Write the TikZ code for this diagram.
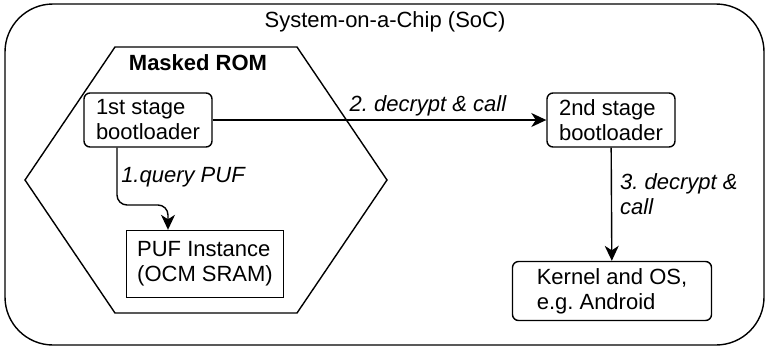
\documentclass[tikz,border=0pt]{standalone}
\usepackage{fontspec}
\setmainfont{Liberation Sans}
\frenchspacing
\usetikzlibrary{positioning, arrows.meta}
\tikzset{
    x=1pt, y=-1pt,
    every node/.style={font=\fontsize{22}{25}\selectfont},
    block/.style={draw, line width=1.4pt, rounded corners=6pt, align=left,
        minimum width=128pt, minimum height=54pt, inner sep=0pt},
    plainblock/.style={block, sharp corners},
    steplabel/.style={font=\fontsize{22}{25}\selectfont\itshape, align=left, inner sep=0pt},
    flow/.style={-{Stealth[length=15pt, width=14pt, inset=4.5pt]}, line width=1.4pt},
}

\begin{document}
\begin{tikzpicture}
                \useasboundingbox (0,0) rectangle (767,349);
                \draw[line width=1.4pt, rounded corners=48pt] (5,4) rectangle (764,345);
                \node (soc) at (385,22) {System-on-a-Chip (SoC)};

                \draw[line width=1.4pt] (115,47) -- (297,47) -- (387,180)
                      -- (297,313) -- (115,313) -- (25,180) -- cycle;
                \node[font=\fontsize{22}{25}\selectfont\bfseries] (rom) at (198,63) {Masked ROM};

                \node[block] (boot1) at (148,120) {1st stage\\bootloader};
                \node[block] (boot2) at (611,120) {2nd stage\\bootloader};
                \node[plainblock, minimum width=157pt, minimum height=67pt] (puf) at (205,264) {PUF Instance\\(OCM SRAM)};
                \node[block, minimum width=199pt, minimum height=59pt] (kernel) at (612,291) {Kernel and OS,\\e.g. Android};

                \coordinate (q1) at ([xshift=-31pt]boot1.south);
                \coordinate (q2) at ([xshift=-37pt]puf.north);
                \draw[flow, rounded corners=10pt] (q1) |- (168,205) -- (q2);
                \node[steplabel] (l1) at (183,177) {1.query PUF};

                \draw[flow] (boot1) -- (boot2);
                \node[steplabel] (l2) at (428,106) {2. decrypt \& call};

                \draw[flow] (boot2) -- (kernel);
                \node[steplabel, anchor=west] (l3) at (620,194) {3. decrypt \&\\call};
            \end{tikzpicture}
\end{document}
